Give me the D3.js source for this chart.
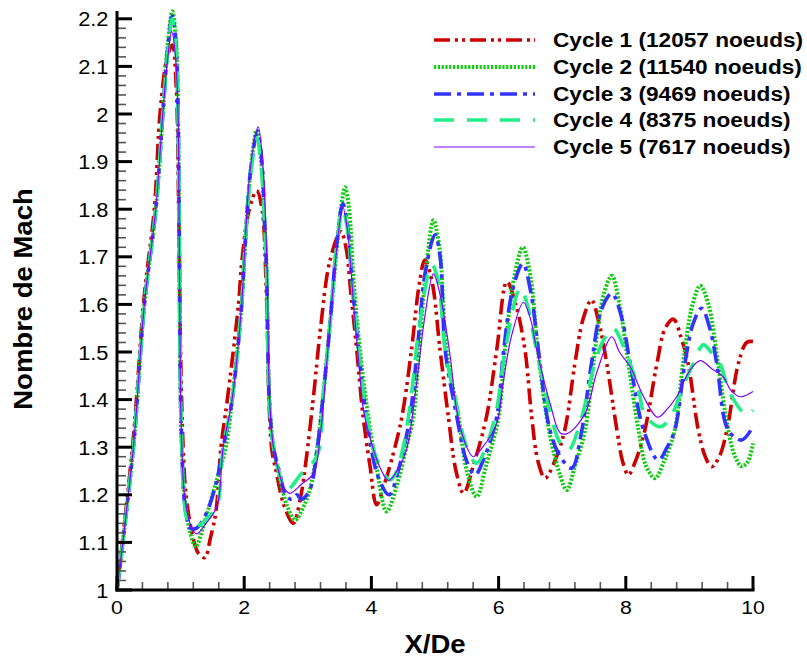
<!DOCTYPE html>
<html><head><meta charset="utf-8">
<script src="https://cdn.jsdelivr.net/npm/d3@7"></script>
<style>body{margin:0;background:#fff}svg{display:block}text{font-family:"Liberation Sans",Arial,Helvetica,sans-serif}</style>
</head><body>
<svg id="c" width="807" height="662"></svg>
<script>
const cycleNames = ["Cycle 1 (12057 noeuds)","Cycle 2 (11540 noeuds)","Cycle 3 (9469 noeuds)","Cycle 4 (8375 noeuds)","Cycle 5 (7617 noeuds)"];
const xTicks = [0,2,4,6,8,10];
const yTicks = [1,1.1,1.2,1.3,1.4,1.5,1.6,1.7,1.8,1.9,2,2.1,2.2];

const cycle1 = [[0,1.0],[0.25,1.31],[0.43,1.62],[0.587,1.8],[0.676,2.0],[0.79,2.12],[0.87,2.145],[0.93,2.06],[0.97,1.8],[1.0,1.5],[1.04,1.3],[1.085,1.2],[1.18,1.12],[1.28,1.077],[1.38,1.068],[1.47,1.11],[1.556,1.165],[1.635,1.30],[1.735,1.40],[1.91,1.6],[1.965,1.693],[2.08,1.80],[2.197,1.839],[2.28,1.80],[2.35,1.62],[2.43,1.30],[2.51,1.245],[2.62,1.18],[2.77,1.14],[2.88,1.19],[2.98,1.28],[3.1,1.42],[3.2,1.55],[3.35,1.693],[3.52,1.753],[3.6,1.72],[3.68,1.62],[3.77,1.504],[3.87,1.364],[3.98,1.259],[4.08,1.179],[4.2,1.22],[4.35,1.29],[4.48,1.364],[4.63,1.504],[4.75,1.64],[4.84,1.693],[4.95,1.65],[5.08,1.504],[5.21,1.364],[5.33,1.25],[5.45,1.203],[5.6,1.26],[5.81,1.364],[5.97,1.504],[6.13,1.648],[6.27,1.60],[6.415,1.504],[6.52,1.364],[6.62,1.27],[6.73,1.235],[6.88,1.27],[7.04,1.336],[7.2,1.476],[7.33,1.57],[7.46,1.609],[7.58,1.56],[7.7,1.476],[7.86,1.336],[7.95,1.27],[8.04,1.242],[8.15,1.27],[8.3,1.336],[8.49,1.476],[8.62,1.55],[8.75,1.569],[8.87,1.53],[8.98,1.476],[9.14,1.336],[9.25,1.28],[9.35,1.259],[9.47,1.28],[9.59,1.336],[9.77,1.476],[9.9,1.52],[10,1.522]];
const cycle2 = [[0,1.0],[0.257,1.3],[0.43,1.6],[0.61,1.8],[0.72,2.0],[0.8,2.15],[0.87,2.216],[0.93,2.15],[0.96,2.0],[0.975,1.8],[1.0,1.4],[1.02,1.30],[1.06,1.2],[1.15,1.12],[1.24,1.091],[1.35,1.13],[1.5,1.2],[1.71,1.30],[1.81,1.4],[1.96,1.6],[2.0,1.693],[2.1,1.88],[2.196,1.966],[2.28,1.88],[2.31,1.8],[2.35,1.68],[2.395,1.4],[2.46,1.3],[2.56,1.235],[2.68,1.175],[2.8,1.147],[2.95,1.18],[3.05,1.22],[3.15,1.30],[3.25,1.42],[3.35,1.56],[3.45,1.71],[3.52,1.80],[3.585,1.846],[3.65,1.80],[3.72,1.65],[3.82,1.504],[3.95,1.364],[4.08,1.259],[4.24,1.165],[4.4,1.22],[4.55,1.30],[4.66,1.364],[4.75,1.504],[4.85,1.66],[4.975,1.777],[5.07,1.72],[5.18,1.504],[5.37,1.364],[5.5,1.25],[5.655,1.196],[5.8,1.26],[6.0,1.364],[6.1,1.504],[6.25,1.66],[6.38,1.72],[6.5,1.66],[6.62,1.50],[6.8,1.33],[6.97,1.24],[7.07,1.21],[7.2,1.26],[7.36,1.336],[7.49,1.476],[7.65,1.62],[7.78,1.66],[7.9,1.6],[8.04,1.476],[8.2,1.336],[8.32,1.26],[8.46,1.235],[8.6,1.27],[8.77,1.336],[8.9,1.476],[9.05,1.6],[9.17,1.639],[9.3,1.6],[9.45,1.476],[9.61,1.336],[9.72,1.28],[9.82,1.26],[9.92,1.27],[10,1.308]];
const cycle3 = [[0,1.0],[0.257,1.3],[0.43,1.6],[0.61,1.8],[0.72,2.0],[0.8,2.14],[0.87,2.206],[0.93,2.14],[0.96,2.0],[0.975,1.8],[1.0,1.4],[1.02,1.3],[1.05,1.2],[1.1,1.15],[1.15,1.13],[1.25,1.13],[1.4,1.16],[1.55,1.22],[1.67,1.3],[1.81,1.4],[1.96,1.6],[2.0,1.693],[2.1,1.88],[2.21,1.963],[2.29,1.88],[2.31,1.8],[2.35,1.68],[2.395,1.4],[2.46,1.3],[2.56,1.245],[2.65,1.20],[2.75,1.19],[2.83,1.2],[2.9,1.19],[3.03,1.21],[3.15,1.30],[3.25,1.42],[3.35,1.56],[3.45,1.72],[3.55,1.812],[3.62,1.77],[3.7,1.64],[3.8,1.504],[3.92,1.364],[4.1,1.24],[4.28,1.2],[4.42,1.25],[4.6,1.36],[4.72,1.504],[4.85,1.67],[5.0,1.746],[5.08,1.70],[5.16,1.504],[5.32,1.38],[5.5,1.27],[5.63,1.242],[5.78,1.28],[5.97,1.364],[6.08,1.504],[6.22,1.63],[6.38,1.686],[6.5,1.63],[6.63,1.50],[6.8,1.34],[6.97,1.28],[7.15,1.256],[7.3,1.33],[7.46,1.476],[7.62,1.59],[7.78,1.623],[7.92,1.58],[8.07,1.476],[8.28,1.336],[8.51,1.273],[8.65,1.30],[8.77,1.336],[8.93,1.476],[9.06,1.56],[9.19,1.592],[9.32,1.55],[9.43,1.476],[9.61,1.336],[9.82,1.315],[10,1.343]];
const cycle4 = [[0,1.0],[0.257,1.3],[0.43,1.6],[0.61,1.8],[0.72,2.0],[0.8,2.13],[0.87,2.20],[0.93,2.13],[0.96,2.0],[0.975,1.8],[1.0,1.4],[1.02,1.3],[1.05,1.2],[1.1,1.15],[1.2,1.135],[1.3,1.137],[1.45,1.155],[1.57,1.175],[1.67,1.3],[1.81,1.4],[1.96,1.6],[2.0,1.693],[2.1,1.87],[2.2,1.95],[2.28,1.87],[2.31,1.8],[2.35,1.68],[2.395,1.4],[2.46,1.3],[2.56,1.24],[2.62,1.215],[2.68,1.21],[2.9,1.245],[3.14,1.28],[3.25,1.42],[3.35,1.56],[3.45,1.72],[3.55,1.80],[3.62,1.76],[3.7,1.64],[3.8,1.504],[3.92,1.37],[4.1,1.27],[4.29,1.231],[4.37,1.242],[4.5,1.30],[4.62,1.40],[4.75,1.55],[4.95,1.683],[5.05,1.65],[5.16,1.504],[5.32,1.40],[5.5,1.30],[5.655,1.266],[5.8,1.30],[5.97,1.38],[6.1,1.5],[6.34,1.634],[6.45,1.6],[6.6,1.5],[6.8,1.38],[6.97,1.308],[7.1,1.294],[7.3,1.36],[7.5,1.47],[7.65,1.525],[7.8,1.55],[8.0,1.50],[8.2,1.42],[8.3,1.368],[8.54,1.343],[8.69,1.36],[8.9,1.427],[9.06,1.476],[9.22,1.515],[9.34,1.50],[9.48,1.476],[9.64,1.413],[9.9,1.368],[10,1.378]];
const cycle5 = [[0,1.0],[0.257,1.3],[0.43,1.6],[0.61,1.8],[0.72,2.0],[0.8,2.12],[0.86,2.173],[0.92,2.12],[0.96,2.0],[0.975,1.8],[1.0,1.4],[1.02,1.30],[1.06,1.2],[1.15,1.14],[1.25,1.118],[1.4,1.14],[1.57,1.175],[1.67,1.3],[1.81,1.4],[1.96,1.6],[2.0,1.693],[2.1,1.89],[2.22,1.973],[2.3,1.88],[2.33,1.8],[2.36,1.68],[2.40,1.4],[2.46,1.3],[2.56,1.24],[2.65,1.21],[2.72,1.203],[2.9,1.222],[3.09,1.245],[3.2,1.33],[3.3,1.48],[3.4,1.64],[3.5,1.77],[3.55,1.805],[3.62,1.76],[3.72,1.60],[3.82,1.45],[3.875,1.378],[4.0,1.31],[4.13,1.259],[4.27,1.23],[4.4,1.25],[4.55,1.294],[4.71,1.434],[4.84,1.574],[4.975,1.664],[5.08,1.62],[5.24,1.49],[5.34,1.378],[5.47,1.31],[5.6,1.28],[5.75,1.30],[5.97,1.35],[6.07,1.434],[6.2,1.532],[6.39,1.604],[6.5,1.57],[6.6,1.504],[6.81,1.392],[6.97,1.33],[7.1,1.33],[7.36,1.371],[7.55,1.46],[7.78,1.532],[7.9,1.50],[8.07,1.469],[8.28,1.406],[8.5,1.363],[8.65,1.38],[8.8,1.406],[9.0,1.46],[9.17,1.482],[9.35,1.465],[9.53,1.448],[9.65,1.42],[9.8,1.406],[10,1.417]];

const series = [cycle1,cycle2,cycle3,cycle4,cycle5];
const colors = ["#cc0000","#11cc11","#3333ff","#22ee88","#8000ff"];
const dashes = ["16,5,3,4,3,5","2.2,1.6","17,6,4,6","20,13",null];
const widths = [3.6,4,3.6,3.6,1.2];

const svg = d3.select("#c");
const x = d3.scaleLinear().domain([0,10]).range([117,753]);
const y = d3.scaleLinear().domain([1,2.2]).range([590,18.8]);

const line = d3.line().x(d=>x(d[0])).y(d=>y(d[1])).curve(d3.curveCatmullRom.alpha(0.5));
series.forEach((s,i)=>{
  svg.append("path").attr("d",line(s)).attr("fill","none").attr("stroke",colors[i])
    .attr("stroke-width",widths[i]).attr("stroke-dasharray",dashes[i]).attr("stroke-linejoin","round");
});

// axes
const ax = svg.append("g");
const yMinor = d3.range(1,2.2001,0.02).filter(v=>Math.abs(Math.round(v*10)-v*10)>0.01);
ax.selectAll(".ym").data(yMinor).enter().append("line")
  .attr("x1",117).attr("x2",126).attr("y1",d=>y(d)).attr("y2",d=>y(d)).attr("stroke","#555").attr("stroke-width",1.6);
ax.selectAll(".yM").data(yTicks).enter().append("line")
  .attr("x1",117).attr("x2",132).attr("y1",d=>y(d)).attr("y2",d=>y(d)).attr("stroke","#000").attr("stroke-width",3);
const xMinor = d3.range(0,10.001,0.4).filter(v=>Math.abs(v/2-Math.round(v/2))>0.01);
ax.selectAll(".xm").data(xMinor).enter().append("line")
  .attr("x1",d=>x(d)).attr("x2",d=>x(d)).attr("y1",590).attr("y2",582).attr("stroke","#555").attr("stroke-width",1.6);
ax.selectAll(".xM").data(xTicks).enter().append("line")
  .attr("x1",d=>x(d)).attr("x2",d=>x(d)).attr("y1",590).attr("y2",576).attr("stroke","#000").attr("stroke-width",3);
ax.append("line").attr("x1",117).attr("x2",117).attr("y1",591.5).attr("y2",11).attr("stroke","#000").attr("stroke-width",3);
ax.append("line").attr("x1",115.5).attr("x2",754.5).attr("y1",590).attr("y2",590).attr("stroke","#000").attr("stroke-width",3);

const sx = 1.12;
ax.selectAll(".yl").data(yTicks).enter().append("text")
  .attr("transform",d=>`translate(108.5,${y(d)+7.5}) scale(${sx},1)`).attr("text-anchor","end").attr("font-size",19.5)
  .text(d=>String(+d.toFixed(1)));
ax.selectAll(".xl").data(xTicks).enter().append("text")
  .attr("transform",d=>`translate(${x(d)},614) scale(${sx},1)`).attr("text-anchor","middle").attr("font-size",19).text(d=>d);

svg.append("text").attr("transform","translate(435,653) scale(1.08,1)").attr("text-anchor","middle").attr("font-size",25.5).attr("font-weight","bold").text("X/De");
svg.append("text").attr("transform","translate(32,299) rotate(-90) scale(1.1,1)").attr("text-anchor","middle").attr("font-size",25).attr("font-weight","bold").text("Nombre de Mach");

// legend
const ly = [40,67,94,120,147];
const lg = svg.append("g");
cycleNames.forEach((n,i)=>{
  lg.append("line").attr("x1",434).attr("x2",535).attr("y1",ly[i]).attr("y2",ly[i])
    .attr("stroke",colors[i]).attr("stroke-width",widths[i]).attr("stroke-dasharray",dashes[i]);
  lg.append("text").attr("transform",`translate(553,${ly[i]+7}) scale(1.16,1)`).attr("font-size",19.5).attr("font-weight","bold").text(n);
});
</script>
</body></html>
